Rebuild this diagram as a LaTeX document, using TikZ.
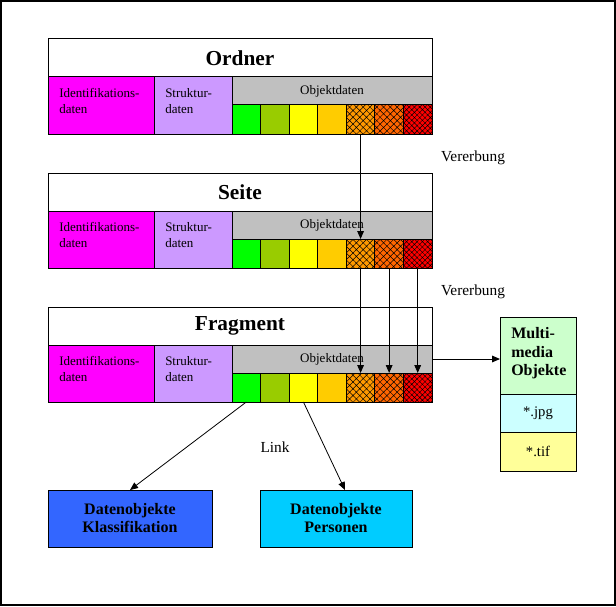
\documentclass[tikz,border=0pt]{standalone}
\usepackage{fontspec}
\setmainfont{Liberation Serif}
\usetikzlibrary{arrows.meta, patterns.meta}
\definecolor{idfill}{RGB}{255,0,255}
\definecolor{strfill}{RGB}{204,153,255}
\definecolor{objfill}{RGB}{192,192,192}
\definecolor{cgreen}{RGB}{0,255,0}
\definecolor{colive}{RGB}{153,204,0}
\definecolor{cyellow}{RGB}{255,255,0}
\definecolor{cgold}{RGB}{255,204,0}
\definecolor{corange}{RGB}{255,153,0}
\definecolor{cdorange}{RGB}{255,102,0}
\definecolor{cred}{RGB}{255,0,0}
\definecolor{mmgreen}{RGB}{204,255,204}
\definecolor{mmcyan}{RGB}{204,255,255}
\definecolor{mmyellow}{RGB}{255,255,153}
\definecolor{klassblue}{RGB}{51,102,255}
\definecolor{persblue}{RGB}{0,204,255}
\tikzset{
  blk/.style={rectangle, draw=black, line width=0.75pt, inner sep=0pt, outer sep=0pt},
  titlebox/.style={blk, fill=white, minimum width=288pt, minimum height=28.5pt,
                   font=\fontsize{16}{19}\selectfont\bfseries},
  iddat/.style={blk, fill=idfill, minimum width=79.5pt, minimum height=42.75pt},
  strdat/.style={blk, fill=strfill, minimum width=58.5pt, minimum height=42.75pt},
  objdat/.style={blk, fill=objfill, minimum width=150pt, minimum height=21pt,
                 font=\fontsize{9.75}{12}\selectfont},
  cell/.style={blk, minimum width=21.43pt, minimum height=21.75pt},
  hatch/.style={cell, postaction={pattern={Hatch[angle=45, distance=#1, line width=0.35pt]}}},
  hatch/.default=3.6pt,
  small/.style={inner sep=0pt, anchor=north west, align=left, font=\fontsize{9.75}{12}\selectfont},
  mmpart/.style={blk, minimum width=57pt, align=center, font=\fontsize{11}{13}\selectfont},
  mmtext/.style={inner sep=0pt, anchor=north west, align=left, font=\fontsize{12}{14}\selectfont\bfseries},
  datbox/.style={blk, minimum height=42.75pt, align=center, font=\fontsize{12}{13.5}\selectfont\bfseries},
  lbl/.style={inner sep=0pt, font=\fontsize{11.5}{13}\selectfont},
  arr/.style={-{Triangle[length=6pt, width=5pt]}, line width=0.75pt},
}
\tikzset{objblock/.pic={
  \node[titlebox] (-title) at (192,19) {#1};
  \node[iddat] (-id) at (53,66.5) {};
  \node[small] (-idtext) at (11,49) {Identifikations-\\daten};
  \node[strdat] (-str) at (145,66.5) {};
  \node[small] (-strtext) at (117,49) {Struktur-\\daten};
  \node[objdat] (-obj) at (284,52) {Objektdaten};
  \foreach \col [count=\i from 0] in {cgreen, colive, cyellow, cgold}
    \node[cell, fill=\col] (-c\i) at ({198.29+28.57*\i}, 80.5) {};
  \node[hatch, fill=corange] (-c4) at (312.57, 80.5) {};
  \node[hatch, fill=cdorange] (-c5) at (341.14, 80.5) {};
  \node[hatch=2.8pt, fill=cred] (-c6) at (369.71, 80.5) {};
}}

\begin{document}
\begin{tikzpicture}[x=0.75pt, y=-0.75pt]

\useasboundingbox (0,0) rectangle (616,606);
\draw[line width=1.5pt] (1,1) rectangle (615,605);

% ========== Ebenen ==========
\pic (ordner)   at (48,39)  {objblock=Ordner};
\pic (seite)    at (48,173) {objblock=Seite};
\pic (fragment) at (48,307) {objblock=Fragment};

% ========== Multimedia ==========
\node[mmpart, fill=mmgreen, minimum height=57.75pt] (mmhead) at (538,355.5) {};
\node[mmtext] (mmtext) at (511,327) {Multi-\\media\\Objekte};
\node[mmpart, fill=mmcyan, minimum height=28.5pt] (jpg) at (538,413) {*.jpg};
\node[mmpart, fill=mmyellow, minimum height=29.25pt] (tif) at (538,451.5) {*.tif};

% ========== Datenobjekte ==========
\node[datbox, fill=klassblue, minimum width=123pt] (klass) at (130,518.5) {Datenobjekte\\Klassifikation};
\node[datbox, fill=persblue, minimum width=114pt] (pers) at (336,518.5) {Datenobjekte\\Personen};

% ========== Beschriftungen ==========
\node[lbl] (vererb1) at (473,158) {Vererbung};
\node[lbl] (vererb2) at (473,292) {Vererbung};
\node[lbl] (link)    at (275,447) {Link};

% ========== Vererbung ==========
\draw[arr] (ordner-c4.south) -- (seite-c4.north);
\draw[arr] (seite-c4.south) -- (fragment-c4.north);
\draw[arr] (seite-c5.south) -- (fragment-c5.north);
\draw[arr] (seite-c6.south) -- (fragment-c6.north);

% ========== Verweise ==========
\draw[arr] (fragment-obj.east) -- (fragment-obj.east -| mmhead.west);
\draw[arr, line width=0.6pt] (fragment-c0.south) -- (klass.north);
\draw[arr, line width=0.6pt] (fragment-c2.south) -- ([xshift=6.75pt]pers.north);

\end{tikzpicture}
\end{document}
